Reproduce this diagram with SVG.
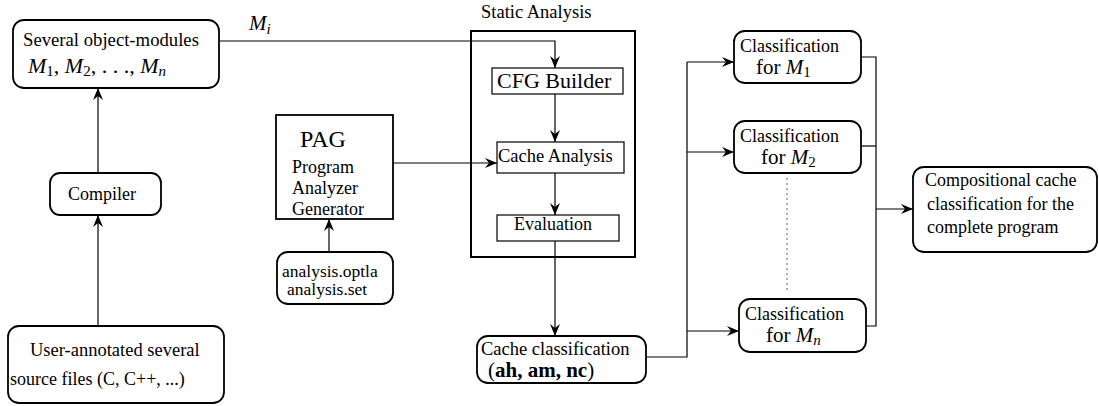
<svg xmlns="http://www.w3.org/2000/svg" width="1099" height="406" viewBox="0 0 1099 406" font-family="'Liberation Serif', 'DejaVu Serif', 'Times New Roman', serif">
  <defs>
    <marker id="arrow" viewBox="0 0 12 10" markerWidth="12" markerHeight="10" refX="12" refY="5" orient="auto" markerUnits="userSpaceOnUse">
      <path d="M0,0 L12,5 L0,10 L4,5 z" fill="#000"/>
    </marker>
    <style>
      text { font-family: 'Liberation Serif', 'DejaVu Serif', serif; fill: #000; }
      .t18 { font-size: 18px; }
      .t185 { font-size: 18.5px; }
      .math { font-size: 22px; }
      .it { font-style: italic; }
      .sub { font-size: 15px; }
      .rbox { fill: #fff; stroke: #000; stroke-width: 1.8; }
      .sbox { fill: #fff; stroke: #000; stroke-width: 1.2; }
      .frame { fill: none; stroke: #000; stroke-width: 2; }
      .conn { fill: none; stroke: #000; stroke-width: 1.2; }
      .arr { marker-end: url(#arrow); }
      .dots { fill: none; stroke: #777; stroke-width: 1.2; stroke-dasharray: 2 3; }
    </style>
  </defs>
  <rect width="1099" height="406" fill="#fff"/>

  <!-- connectors -->
  <g id="connectors">
    <path class="conn arr" d="M220,41 H555 V68"/>
    <path class="conn arr" d="M555,94 V142"/>
    <path class="conn arr" d="M555,173 V215"/>
    <path class="conn arr" d="M555,241 V336"/>
    <path class="conn arr" d="M393,163 H497"/>
    <path class="conn arr" d="M329,252 V219"/>
    <path class="conn arr" d="M98,173 V88"/>
    <path class="conn arr" d="M98,326 V215"/>
    <path class="conn" d="M646,357 H687 V62"/>
    <path class="conn arr" d="M687,62 H734"/>
    <path class="conn arr" d="M687,152 H734"/>
    <path class="conn arr" d="M687,331 H739"/>
    <path class="conn" d="M861,57 H876 V326 H866"/>
    <path class="conn" d="M861,146 H876"/>
    <path class="conn arr" d="M876,209 H913"/>
    <path class="dots" d="M787,178 V290"/>
    <text x="249" y="30" class="math it" style="font-size:21px">M<tspan class="sub" dy="4">i</tspan></text>
  </g>

  <!-- Static Analysis frame -->
  <g id="static-analysis">
    <rect class="frame" x="471" y="31" width="164" height="226"/>
    <text x="481" y="18" class="t185">Static Analysis</text>
  </g>

  <g id="cfg-builder">
    <rect class="sbox" x="492" y="68" width="131" height="26"/>
    <text x="497" y="88" style="font-size:22px">CFG Builder</text>
  </g>

  <g id="cache-analysis">
    <rect class="sbox" x="497" y="142" width="127" height="31"/>
    <text x="498" y="162" class="t185">Cache Analysis</text>
  </g>

  <g id="evaluation">
    <rect class="sbox" x="497" y="215" width="122" height="26"/>
    <text x="514" y="230" class="t18">Evaluation</text>
  </g>

  <g id="object-modules">
    <rect class="rbox" x="13" y="20" width="206" height="68" rx="11"/>
    <text x="23" y="46" style="font-size:18.7px">Several object-modules</text>
    <text x="28" y="73" class="math"><tspan class="it">M</tspan><tspan class="sub" dy="3">1</tspan><tspan dy="-3">, </tspan><tspan class="it">M</tspan><tspan class="sub" dy="3">2</tspan><tspan dy="-3">, . . ., </tspan><tspan class="it">M</tspan><tspan class="sub it" dy="3">n</tspan></text>
  </g>

  <g id="compiler">
    <rect class="rbox" x="50" y="173" width="111" height="42" rx="10"/>
    <text x="102" y="200" class="t18" text-anchor="middle">Compiler</text>
  </g>

  <g id="source-files">
    <rect class="rbox" x="8" y="326" width="216" height="77" rx="11"/>
    <text x="30" y="356" style="font-size:18.5px">User-annotated several</text>
    <text x="10" y="385" class="t18">source files (C, C++, ...)</text>
  </g>

  <g id="pag">
    <rect class="rbox" x="276" y="115" width="117" height="104"/>
    <text x="300" y="147" style="font-size:24px">PAG</text>
    <text x="292" y="173" class="t18">Program</text>
    <text x="292" y="194" class="t18">Analyzer</text>
    <text x="292" y="215" class="t18">Generator</text>
  </g>

  <g id="analysis-files">
    <rect class="rbox" x="277" y="252" width="116" height="52" rx="11"/>
    <text x="282" y="277" style="font-size:17.5px">analysis.optla</text>
    <text x="287" y="295" style="font-size:17.5px">analysis.set</text>
  </g>

  <g id="cache-classification">
    <rect class="rbox" x="477" y="336" width="169" height="47" rx="11"/>
    <text x="481" y="355" class="t185">Cache classification</text>
    <text x="488" y="377" style="font-size:21px">(<tspan font-weight="bold">ah, am, nc</tspan>)</text>
  </g>

  <g id="classification-m1">
    <rect class="rbox" x="734" y="31" width="127" height="52" rx="11"/>
    <text x="740" y="52" class="t18">Classification</text>
    <text x="756" y="74" style="font-size:21px">for <tspan class="it">M</tspan><tspan class="sub" dy="3">1</tspan></text>
  </g>

  <g id="classification-m2">
    <rect class="rbox" x="734" y="121" width="127" height="52" rx="11"/>
    <text x="740" y="142" class="t18">Classification</text>
    <text x="761" y="164" style="font-size:21px">for <tspan class="it">M</tspan><tspan class="sub" dy="3">2</tspan></text>
  </g>

  <g id="classification-mn">
    <rect class="rbox" x="739" y="299" width="127" height="53" rx="11"/>
    <text x="745" y="320" class="t18">Classification</text>
    <text x="766" y="342" style="font-size:21px">for <tspan class="it">M</tspan><tspan class="sub it" dy="3">n</tspan></text>
  </g>

  <g id="compositional">
    <rect class="rbox" x="913" y="167" width="184" height="85" rx="11"/>
    <text x="925" y="186" class="t18">Compositional cache</text>
    <text x="927" y="210" class="t18">classification for the</text>
    <text x="927" y="233" class="t18">complete program</text>
  </g>
</svg>
